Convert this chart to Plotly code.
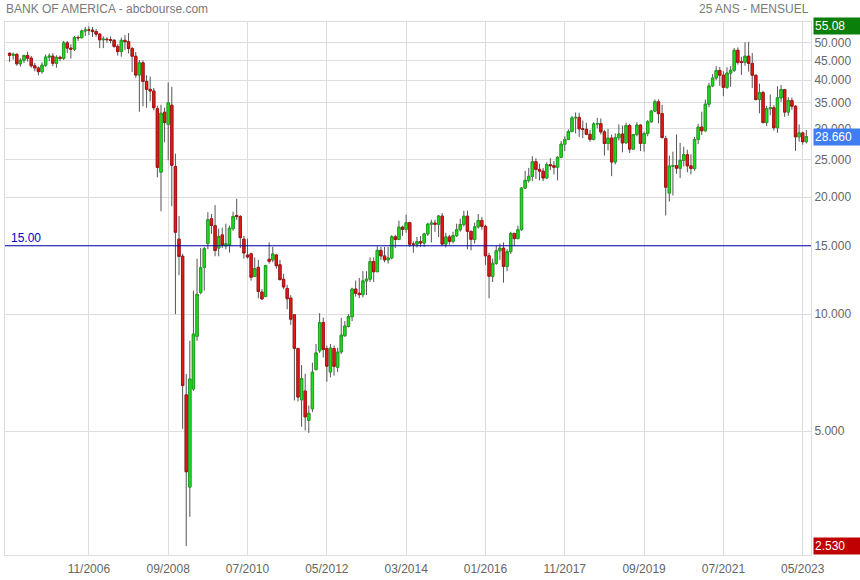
import math
import pandas as pd
import plotly.graph_objects as go

# ---------------- data (monthly OHLC, Jan 2005 .. Jun 2023) ----------------
open_ = [
    46.95, 46.37, 46.65, 44.10, 45.04, 46.32, 45.61, 43.60, 43.03, 42.10, 43.74, 45.89,  # 2005
    46.15, 44.23, 45.85, 45.54, 49.92, 48.40, 48.10, 51.53, 51.47, 53.57, 53.87, 53.85,  # 2006
    53.39, 52.58, 50.84, 51.02, 50.90, 50.71, 48.89, 47.42, 50.68, 50.27, 48.28, 46.13,  # 2007
    41.26, 44.35, 39.74, 37.91, 37.54, 33.80, 23.20, 33.10, 30.80, 34.50, 24.00, 15.60,  # 2008
    14.10, 6.20, 3.59, 6.42, 8.77, 11.37, 13.20, 15.20, 17.60, 16.90, 14.80, 16.00,      # 2009
    15.00, 15.10, 16.60, 17.95, 17.83, 15.60, 14.20, 14.30, 12.50, 13.20, 11.40, 11.10,  # 2010
    13.85, 13.80, 14.20, 13.40, 12.30, 11.65, 11.00, 9.96, 8.16, 6.02, 6.34, 5.33,       # 2011
    5.71, 7.20, 8.05, 9.52, 8.16, 7.10, 8.16, 7.30, 8.00, 8.80, 9.30, 9.85,              # 2012
    11.61, 11.32, 11.23, 12.18, 12.31, 13.66, 12.86, 14.60, 14.12, 13.80, 13.96, 15.82,  # 2013
    15.57, 16.75, 16.53, 17.20, 15.14, 15.14, 15.37, 15.25, 16.09, 17.05, 17.16, 17.04,  # 2014
    17.89, 15.15, 15.81, 15.39, 15.93, 16.50, 17.02, 17.88, 16.34, 15.58, 16.78, 17.43,  # 2015
    16.83, 14.14, 12.52, 13.52, 14.56, 14.79, 13.27, 14.49, 16.14, 15.65, 16.50, 21.12,  # 2016
    22.10, 22.64, 24.68, 23.59, 23.34, 22.41, 24.26, 24.12, 23.89, 25.34, 27.39, 28.17,  # 2017
    29.52, 32.00, 32.10, 29.99, 29.92, 29.04, 28.19, 30.88, 30.93, 29.46, 27.50, 28.40,  # 2018
    24.64, 28.47, 29.09, 27.59, 30.58, 26.60, 29.00, 30.68, 27.51, 29.17, 31.27, 33.32,  # 2019
    35.22, 32.83, 28.30, 20.50, 24.05, 24.12, 23.75, 24.88, 25.74, 24.09, 23.70, 28.16,  # 2020
    30.31, 29.65, 34.71, 38.69, 40.53, 42.39, 41.23, 38.36, 41.75, 42.45, 47.78, 44.65,  # 2021
    44.49, 46.14, 44.20, 41.22, 35.68, 37.20, 31.13, 33.81, 33.99, 30.20, 36.04, 37.87,  # 2022
    33.12, 35.48, 34.30, 28.60, 29.28, 27.79,                                            # 2023
]
high = [
    47.10, 47.10, 46.90, 45.60, 46.60, 47.40, 46.20, 44.40, 43.40, 44.50, 46.60, 46.90,
    47.00, 46.40, 46.30, 50.50, 50.50, 49.50, 52.00, 52.20, 54.00, 54.90, 55.08, 54.90,
    54.20, 52.90, 51.90, 51.60, 51.90, 51.00, 49.50, 51.50, 52.30, 52.90, 48.80, 47.30,
    45.10, 45.00, 41.20, 40.90, 38.20, 34.40, 34.60, 34.00, 39.50, 38.50, 25.90, 17.90,
    14.30, 7.02, 8.54, 11.50, 13.90, 14.80, 14.90, 18.30, 18.10, 19.08, 16.60, 16.70,
    17.10, 16.90, 18.35, 19.82, 18.00, 15.90, 15.65, 14.40, 14.00, 13.80, 11.60, 13.40,
    15.30, 14.90, 14.30, 13.80, 12.70, 11.90, 11.20, 10.00, 8.20, 7.40, 7.02, 5.82,
    7.50, 8.38, 10.06, 9.80, 8.30, 8.38, 8.30, 8.20, 9.78, 9.60, 10.00, 11.70,
    12.20, 12.40, 12.90, 12.90, 14.00, 14.00, 14.95, 14.90, 14.90, 14.90, 15.98, 16.00,
    17.40, 16.90, 18.03, 17.30, 15.40, 15.80, 15.90, 16.20, 17.20, 17.50, 17.50, 18.00,
    18.20, 16.20, 16.00, 16.30, 17.10, 17.60, 18.45, 18.48, 16.40, 17.20, 18.10, 17.80,
    17.00, 14.40, 13.90, 15.00, 15.20, 15.30, 14.70, 16.30, 16.20, 16.90, 21.20, 23.40,
    23.80, 25.50, 25.20, 24.40, 23.80, 24.60, 25.20, 24.80, 25.50, 27.90, 28.70, 29.90,
    32.40, 33.05, 33.00, 31.50, 31.10, 29.80, 31.20, 32.00, 31.90, 29.80, 30.00, 29.00,
    29.20, 30.80, 30.60, 31.10, 30.90, 29.10, 31.20, 30.80, 29.50, 31.60, 33.50, 35.70,
    35.70, 34.60, 28.80, 25.60, 26.20, 29.00, 27.60, 27.00, 26.50, 25.80, 28.60, 30.90,
    33.20, 35.70, 39.40, 41.50, 43.50, 43.30, 42.20, 43.20, 43.50, 48.40, 48.60, 46.00,
    50.11, 50.20, 47.00, 41.30, 39.20, 37.60, 34.40, 36.80, 34.50, 38.60, 38.90, 38.00,
    36.20, 36.10, 34.50, 30.80, 29.50, 29.80,
]
low = [
    44.60, 45.20, 43.60, 43.40, 44.30, 44.70, 43.10, 42.20, 41.20, 41.60, 43.30, 44.80,
    43.50, 43.10, 44.80, 45.10, 47.00, 45.50, 47.60, 50.50, 51.30, 52.00, 52.30, 51.70,
    51.80, 48.40, 48.40, 50.00, 49.80, 48.50, 46.30, 46.00, 47.90, 46.90, 42.00, 40.60,
    33.20, 34.30, 34.00, 35.30, 33.50, 22.50, 18.40, 27.70, 24.90, 18.96, 10.00, 12.60,
    5.07, 2.53, 3.01, 6.35, 8.54, 11.25, 11.50, 14.70, 16.10, 14.10, 14.10, 14.80,
    14.70, 14.40, 16.40, 17.50, 14.80, 13.90, 13.90, 12.20, 12.50, 10.99, 10.88, 11.10,
    13.50, 13.60, 13.10, 12.20, 11.60, 10.30, 9.39, 6.00, 5.96, 5.13, 5.02, 4.95,
    5.60, 7.17, 7.95, 7.74, 6.70, 6.88, 6.95, 7.10, 7.90, 8.75, 9.25, 9.60,
    11.10, 11.00, 11.05, 11.20, 12.10, 12.10, 12.85, 13.80, 13.60, 13.50, 13.85, 14.80,
    15.50, 15.90, 16.20, 14.90, 14.40, 14.85, 14.90, 14.90, 15.90, 15.30, 16.30, 15.80,
    15.00, 14.85, 15.10, 15.20, 15.80, 16.30, 16.80, 14.70, 14.60, 15.20, 16.60, 16.50,
    13.40, 10.99, 12.10, 13.40, 13.80, 12.05, 12.90, 14.30, 15.00, 15.60, 16.40, 21.00,
    21.80, 22.00, 22.30, 22.10, 22.00, 22.30, 23.50, 22.90, 22.10, 25.20, 26.30, 28.10,
    29.40, 29.20, 28.60, 28.40, 28.90, 27.80, 28.00, 30.10, 29.00, 25.60, 26.40, 22.66,
    24.30, 28.00, 26.10, 27.50, 26.00, 26.50, 28.70, 26.30, 26.20, 28.70, 31.10, 33.10,
    31.00, 28.30, 17.95, 19.50, 20.20, 23.00, 22.40, 24.00, 23.20, 22.90, 23.40, 27.40,
    28.90, 29.50, 34.10, 38.40, 40.00, 38.70, 36.40, 38.00, 38.50, 42.00, 43.90, 41.30,
    43.60, 42.10, 38.20, 35.50, 32.90, 31.00, 30.50, 32.50, 29.70, 29.30, 35.20, 32.20,
    32.40, 33.60, 26.32, 27.80, 27.30, 27.50,
]
close = [
    46.37, 46.65, 44.10, 45.04, 46.32, 45.61, 43.60, 43.03, 42.10, 43.74, 45.89, 46.15,
    44.23, 45.85, 45.54, 49.92, 48.40, 48.10, 51.53, 51.47, 53.57, 53.87, 53.85, 53.39,
    52.58, 50.84, 51.02, 50.90, 50.71, 48.89, 47.42, 50.68, 50.27, 48.28, 46.13, 41.26,
    44.35, 39.74, 37.91, 37.54, 34.01, 23.87, 32.90, 31.14, 35.00, 24.17, 16.25, 14.08,
    6.55, 3.93, 6.81, 8.89, 11.25, 13.17, 14.74, 17.50, 16.92, 14.58, 15.85, 15.06,
    15.18, 16.65, 17.85, 17.83, 15.74, 14.37, 14.04, 12.45, 13.10, 11.44, 10.95, 13.34,
    13.68, 14.29, 13.33, 12.28, 11.75, 10.96, 9.71, 8.17, 6.12, 6.83, 5.44, 5.56,
    7.09, 7.95, 9.52, 8.11, 7.35, 8.18, 7.34, 7.99, 8.83, 9.32, 9.86, 11.61,
    11.32, 11.23, 12.18, 12.31, 13.66, 12.86, 14.60, 14.12, 13.80, 13.96, 15.82, 15.57,
    16.75, 16.53, 17.20, 15.14, 15.14, 15.37, 15.25, 16.09, 17.05, 17.16, 17.04, 17.89,
    15.15, 15.81, 15.39, 15.93, 16.50, 17.02, 17.88, 16.34, 15.58, 16.78, 17.43, 16.83,
    14.14, 12.52, 13.52, 14.56, 14.79, 13.27, 14.49, 16.14, 15.65, 16.50, 21.12, 22.10,
    22.64, 24.68, 23.59, 23.34, 22.41, 24.26, 24.12, 23.89, 25.34, 27.39, 28.17, 29.52,
    32.00, 32.10, 29.99, 29.92, 29.04, 28.19, 30.88, 30.93, 29.46, 27.50, 28.40, 24.64,
    28.47, 29.09, 27.59, 30.58, 26.60, 29.00, 30.68, 27.51, 29.17, 31.27, 33.32, 35.22,
    32.83, 28.50, 21.23, 24.05, 24.12, 23.75, 24.88, 25.74, 24.09, 23.70, 28.16, 30.31,
    29.65, 34.71, 38.69, 40.53, 42.39, 41.23, 38.36, 41.75, 42.45, 47.78, 44.47, 44.49,
    46.14, 44.20, 41.22, 35.68, 37.20, 31.13, 33.81, 33.99, 30.20, 36.04, 37.87, 33.12,
    35.48, 34.30, 28.60, 29.28, 27.79, 28.66,
]

months = [p.strftime('%Y-%m') for p in pd.period_range('2005-01', periods=len(close), freq='M')]

tick_months = ['2006-11', '2008-09', '2010-07', '2012-05', '2014-03',
               '2016-01', '2017-11', '2019-09', '2021-07', '2023-05']
tick_labels = ['11/2006', '09/2008', '07/2010', '05/2012', '03/2014',
               '01/2016', '11/2017', '09/2019', '07/2021', '05/2023']
y_ticks = [5, 10, 15, 20, 25, 30, 35, 40, 45, 50]
y_tick_labels = ['5.000', '10.000', '15.000', '20.000', '25.000',
                 '30.000', '35.000', '40.000', '45.000', '50.000']
ref_level = 15.0

# ---------------- figure ----------------
FONT = 'Liberation Sans, Arial, sans-serif'
WICK = '#555555'
UP_FILL, UP_LINE = '#1fe01f', '#17a817'
DN_FILL, DN_LINE = '#e41b1b', '#b00a0a'

body_top = [max(o, c) for o, c in zip(open_, close)]
body_bot = [min(o, c) for o, c in zip(open_, close)]

fig = go.Figure()
# wicks (grey)
fig.add_trace(go.Candlestick(
    x=months, open=open_, high=high, low=low, close=close,
    increasing=dict(line=dict(color=WICK, width=1), fillcolor=WICK),
    decreasing=dict(line=dict(color=WICK, width=1), fillcolor=WICK),
    whiskerwidth=0, showlegend=False, hoverinfo='skip'))
# coloured bodies
fig.add_trace(go.Candlestick(
    x=months, open=open_, high=body_top, low=body_bot, close=close,
    increasing=dict(line=dict(color=UP_LINE, width=0.8), fillcolor=UP_FILL),
    decreasing=dict(line=dict(color=DN_LINE, width=0.8), fillcolor=DN_FILL),
    whiskerwidth=0, showlegend=False))

y_lo, y_hi = 2.40, 56.5

fig.update_layout(
    width=860, height=580,
    margin=dict(l=4, r=49, t=22, b=23),
    paper_bgcolor='white', plot_bgcolor='white',
    showlegend=False,
    font=dict(family=FONT, size=12, color='#666666'),
    boxgap=0.2, boxgroupgap=0.2,
)
fig.update_xaxes(
    type='category', range=[-1.27, len(close) + 0.3],
    tickvals=tick_months, ticktext=tick_labels,
    showgrid=True, gridcolor='#dddddd', gridwidth=1,
    showline=True, linecolor='#dddddd', linewidth=1, mirror=True,
    ticks='', ticklabelstandoff=3, rangeslider=dict(visible=False),
    tickfont=dict(family=FONT, size=12, color='#666666'),
)
fig.update_yaxes(
    type='log', side='right', range=[math.log10(y_lo), math.log10(y_hi)],
    tickvals=y_ticks, ticktext=y_tick_labels,
    showgrid=True, gridcolor='#dddddd', gridwidth=1,
    showline=True, linecolor='#dddddd', linewidth=1, mirror=True,
    ticks='', zeroline=False,
    tickfont=dict(family=FONT, size=12, color='#666666'),
)

# horizontal reference line at 15
fig.add_shape(type='line', xref='paper', x0=0, x1=1, yref='y',
              y0=ref_level, y1=ref_level, line=dict(color='#0000b0', width=1))

ann = []
ann.append(dict(text='BANK OF AMERICA - abcbourse.com', xref='paper', yref='paper',
                x=0, y=1, xanchor='left', yanchor='middle', xshift=-1, yshift=13,
                showarrow=False, font=dict(family=FONT, size=12, color='#7a7a7a')))
ann.append(dict(text='25 ANS - MENSUEL', xref='paper', yref='paper',
                x=1, y=1, xanchor='right', yanchor='middle', yshift=13,
                showarrow=False, font=dict(family=FONT, size=12, color='#7a7a7a')))
ann.append(dict(text='%.2f' % ref_level, xref='paper', yref='y',
                x=0, y=math.log10(ref_level), xanchor='left', yanchor='middle',
                xshift=4, yshift=8, showarrow=False,
                font=dict(family=FONT, size=12, color='#0000cc')))

max_high = max(high)
min_low = min(low)
last = close[-1]
for val, txt, col in [(max_high, '%.2f' % max_high, '#0a7f0a'),
                      (last, '%.3f' % last, '#3f7df2'),
                      (min_low, '%.3f' % min_low, '#c00000')]:
    ann.append(dict(text=txt, xref='paper', yref='y', x=1, y=math.log10(val),
                    xanchor='left', yanchor='middle', xshift=2,
                    showarrow=False, bgcolor=col, borderpad=1, width=45, align='left',
                    font=dict(family=FONT, size=12, color='white')))
fig.update_layout(annotations=ann)

fig.write_html('out.html', config={'displayModeBar': False},
               post_script="document.body.style.margin='0';document.body.style.padding='0';")
